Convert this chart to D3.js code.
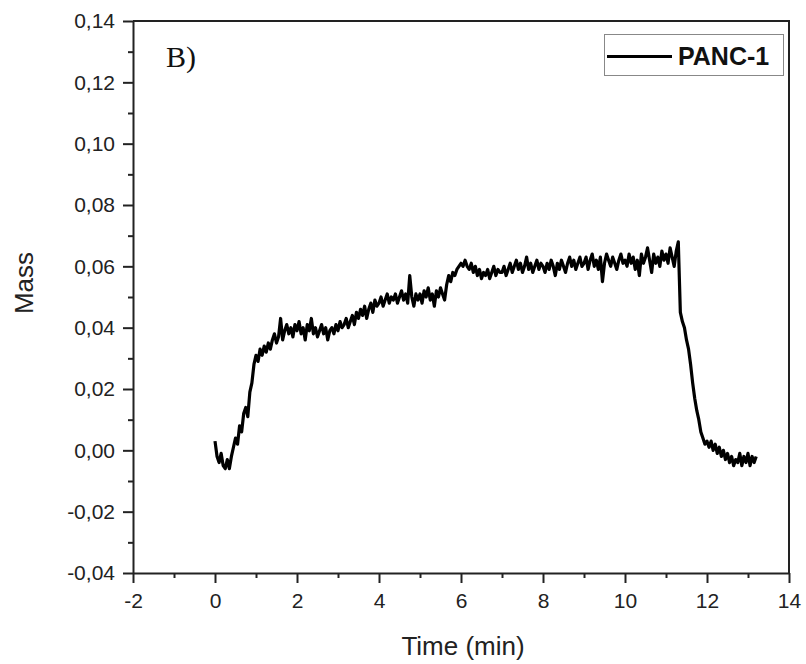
<!DOCTYPE html>
<html>
<head>
<meta charset="utf-8">
<script src="https://cdn.jsdelivr.net/npm/d3@7"></script>
<style>
  body { margin: 0; background: #fff; }
  .axis text { font-family: "Liberation Sans", Arial, sans-serif; font-size: 21px; fill: #222; }
  .axis path, .axis line { stroke: #222; stroke-width: 2px; }
</style>
</head>
<body>
<div id="chart"></div>
<script>
// time axis: samples every 0.05 min starting at 0
const startTime = 0;
const sampleStep = 0.05;

// mass readings (PANC-1), one row per minute
const massValues = [
  0.003, -0.002, -0.004, -0.001, -0.005, -0.006, -0.003, -0.006, -0.002, 0.001, 0.004, 0.002, 0.008, 0.006, 0.012, 0.014, 0.011, 0.019, 0.022, 0.028,
  0.031, 0.029, 0.033, 0.031, 0.034, 0.032, 0.035, 0.033, 0.036, 0.038, 0.035, 0.037, 0.043, 0.036, 0.039, 0.041, 0.038, 0.040, 0.037, 0.041,
  0.039, 0.042, 0.038, 0.040, 0.036, 0.041, 0.039, 0.043, 0.038, 0.040, 0.037, 0.039, 0.041, 0.038, 0.040, 0.036, 0.039, 0.040, 0.038, 0.041,
  0.039, 0.042, 0.040, 0.041, 0.043, 0.040, 0.042, 0.044, 0.041, 0.045, 0.043, 0.046, 0.044, 0.047, 0.043, 0.046, 0.048, 0.045, 0.049, 0.047,
  0.048, 0.050, 0.047, 0.049, 0.051, 0.048, 0.050, 0.049, 0.051, 0.048, 0.050, 0.052, 0.049, 0.051, 0.048, 0.057, 0.050, 0.047, 0.051, 0.049,
  0.051, 0.048, 0.052, 0.050, 0.053, 0.049, 0.051, 0.047, 0.052, 0.050, 0.053, 0.051, 0.049, 0.054, 0.057, 0.055, 0.058, 0.057, 0.059, 0.060,
  0.061, 0.060, 0.062, 0.060, 0.059, 0.061, 0.058, 0.060, 0.057, 0.059, 0.056, 0.058, 0.057, 0.059, 0.056, 0.058, 0.060, 0.057, 0.059, 0.058,
  0.058, 0.060, 0.057, 0.059, 0.061, 0.058, 0.060, 0.062, 0.059, 0.061, 0.058, 0.060, 0.063, 0.059, 0.061, 0.058, 0.060, 0.062, 0.059, 0.061,
  0.060, 0.058, 0.061, 0.059, 0.062, 0.060, 0.057, 0.061, 0.059, 0.062, 0.060, 0.058, 0.061, 0.063, 0.060, 0.062, 0.059, 0.061, 0.063, 0.060,
  0.061, 0.063, 0.059, 0.062, 0.064, 0.060, 0.062, 0.059, 0.063, 0.055, 0.061, 0.064, 0.062, 0.060, 0.063, 0.061, 0.059, 0.062, 0.064, 0.061,
  0.062, 0.060, 0.064, 0.061, 0.063, 0.059, 0.062, 0.057, 0.064, 0.061, 0.063, 0.066, 0.062, 0.058, 0.064, 0.061, 0.063, 0.060, 0.065, 0.062,
  0.064, 0.061, 0.066, 0.063, 0.060, 0.065, 0.068, 0.045, 0.042, 0.040, 0.036, 0.033, 0.028, 0.022, 0.017, 0.013, 0.010, 0.006, 0.004, 0.002,
  0.003, 0.001, 0.003, 0.000, 0.002, -0.001, 0.001, -0.002, 0.000, -0.003, -0.001, -0.004, -0.002, -0.005, -0.003, -0.004, -0.001, -0.005, -0.002, -0.004,
  -0.001, -0.005, -0.002, -0.004, -0.002
];

const xTicks = [-2, 0, 2, 4, 6, 8, 10, 12, 14];
const xMinorTicks = [-1, 1, 3, 5, 7, 9, 11, 13];
const yTicks = [-0.04, -0.02, 0, 0.02, 0.04, 0.06, 0.08, 0.10, 0.12, 0.14];
const yMinorTicks = [-0.03, -0.01, 0.01, 0.03, 0.05, 0.07, 0.09, 0.11, 0.13];
const seriesName = "PANC-1";
const panelLabel = "B)";

const margin = {top: 21, right: 17, bottom: 91, left: 133};
const width = 806 - margin.left - margin.right;
const height = 664 - margin.top - margin.bottom;

const svg = d3.select("#chart")
    .append("svg")
    .attr("width", 806)
    .attr("height", 664);

const g = svg.append("g")
    .attr("transform", `translate(${margin.left}, ${margin.top})`);

const xScale = d3.scaleLinear().domain([-2, 14]).range([0, width]);
const yScale = d3.scaleLinear().domain([-0.04, 0.14]).range([height, 0]);

// comma as decimal separator, plain hyphen minus
const locale = d3.formatLocale({decimal: ",", thousands: ".", grouping: [3], currency: ["", ""], minus: "-"});

// minor ticks first so the major axes sit on top
g.append("g")
    .attr("class", "axis")
    .attr("transform", `translate(0, ${height})`)
    .call(d3.axisBottom(xScale).tickValues(xMinorTicks).tickSize(5).tickFormat(""))
    .call(a => a.select(".domain").remove());
g.append("g")
    .attr("class", "axis")
    .call(d3.axisLeft(yScale).tickValues(yMinorTicks).tickSize(5).tickFormat(""))
    .call(a => a.select(".domain").remove());

g.append("g")
    .attr("class", "axis")
    .attr("transform", `translate(0, ${height})`)
    .call(d3.axisBottom(xScale).tickValues(xTicks).tickSize(10).tickSizeOuter(0).tickPadding(10)
        .tickFormat(locale.format("d")));

g.append("g")
    .attr("class", "axis")
    .call(d3.axisLeft(yScale).tickValues(yTicks).tickSize(10).tickSizeOuter(0).tickPadding(8)
        .tickFormat(locale.format(".2f")));

// top and right frame lines
g.append("path")
    .attr("d", `M0,0H${width}V${height}`)
    .attr("fill", "none")
    .attr("stroke", "#222")
    .attr("stroke-width", 2);

// the mass trace
const line = d3.line()
    .x((d, i) => xScale(startTime + i * sampleStep))
    .y(d => yScale(d));

g.append("path")
    .datum(massValues)
    .attr("d", line)
    .attr("fill", "none")
    .attr("stroke", "#000")
    .attr("stroke-width", 3.2)
    .attr("stroke-linejoin", "round");

// axis titles
svg.append("text")
    .attr("x", 463)
    .attr("y", 655)
    .style("text-anchor", "middle")
    .style("font-family", "Liberation Sans, Arial, sans-serif")
    .style("font-size", "26px")
    .style("fill", "#222")
    .text("Time (min)");

svg.append("text")
    .attr("transform", "translate(33, 283) rotate(-90)")
    .style("text-anchor", "middle")
    .style("font-family", "Liberation Sans, Arial, sans-serif")
    .style("font-size", "26px")
    .style("fill", "#222")
    .text("Mass");

// panel label
svg.append("text")
    .attr("x", 166)
    .attr("y", 67)
    .style("font-family", "Liberation Serif, Times New Roman, serif")
    .style("font-size", "30px")
    .style("fill", "#111")
    .text(panelLabel);

// legend
const legend = svg.append("g");
legend.append("rect")
    .attr("x", 604.5)
    .attr("y", 34.5)
    .attr("width", 179)
    .attr("height", 41)
    .attr("fill", "#fff")
    .attr("stroke", "#888")
    .attr("stroke-width", 1);
legend.append("line")
    .attr("x1", 607)
    .attr("x2", 672)
    .attr("y1", 56.5)
    .attr("y2", 56.5)
    .attr("stroke", "#000")
    .attr("stroke-width", 3);
legend.append("text")
    .attr("x", 678)
    .attr("y", 65)
    .style("font-family", "Liberation Sans, Arial, sans-serif")
    .style("font-size", "25px")
    .style("font-weight", "bold")
    .style("fill", "#111")
    .text(seriesName);
</script>
</body>
</html>
